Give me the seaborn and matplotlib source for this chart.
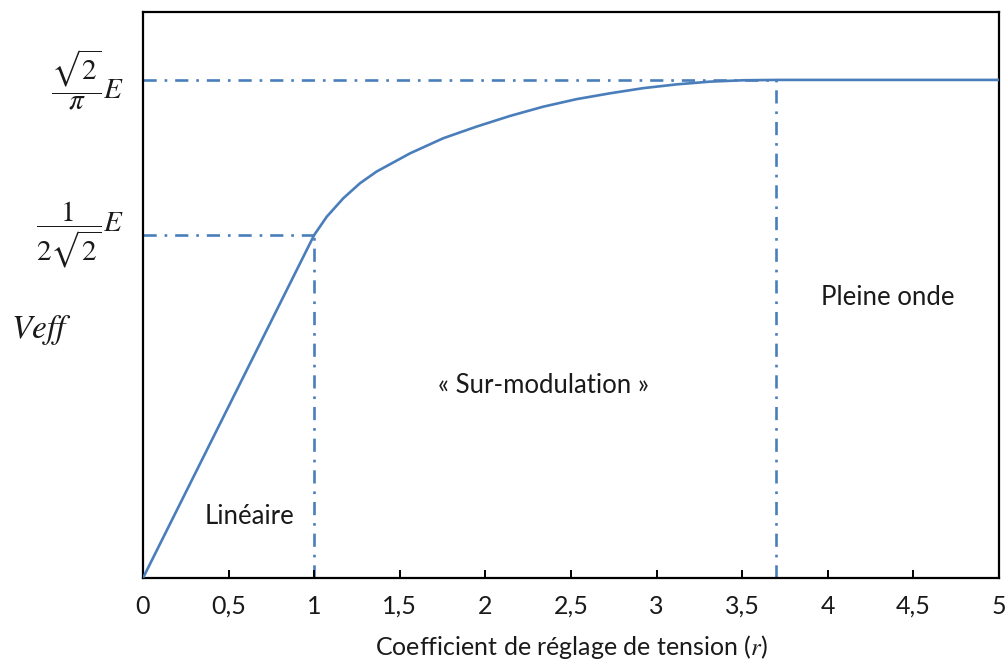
import matplotlib
matplotlib.use("Agg")
import matplotlib.pyplot as plt
import pandas as pd
import seaborn as sns

# Veff versus r (vertical unit = level at r = 1)
r_values = [0.0, 1.0, 1.073, 1.17, 1.268, 1.365, 1.56, 1.754, 1.949, 2.144,
            2.338, 2.533, 2.728, 2.922, 3.117, 3.312, 3.506, 3.7, 5.0]
veff_values = [0.0, 1.0, 1.053, 1.107, 1.151, 1.185, 1.238, 1.282, 1.316, 1.347,
               1.374, 1.396, 1.413, 1.428, 1.439, 1.447, 1.451, 1.452, 1.452]

r_linear_end = 1.0
r_full_wave = 3.7
y_linear_end = 1.0
y_full_wave = 1.452

x_ticks = [0, 0.5, 1, 1.5, 2, 2.5, 3, 3.5, 4, 4.5, 5]
x_tick_labels = ["0", "0,5", "1", "1,5", "2", "2,5", "3", "3,5", "4", "4,5", "5"]
y_ticks = [y_linear_end, y_full_wave]
y_tick_labels = [r"$\dfrac{1}{2\sqrt{2}}E$", r"$\dfrac{\sqrt{2}}{\pi}E$"]

region_labels = ["Linéaire", "« Sur-modulation »", "Pleine onde"]
region_x = [0.62, 2.342, 4.352]
region_y = [0.178, 0.56, 0.819]

blue = "#4a7ebb"


def main() -> None:
    sns.set_theme(style="ticks")
    plt.rcParams["font.family"] = ["Lato", "DejaVu Sans"]
    plt.rcParams["mathtext.fontset"] = "stix"
    plt.rcParams["axes.axisbelow"] = False
    plt.rcParams["xtick.bottom"] = True
    plt.rcParams["xtick.direction"] = "in"
    plt.rcParams["xtick.major.size"] = 6
    plt.rcParams["xtick.major.width"] = 1.4
    plt.rcParams["xtick.color"] = "black"

    fig = plt.figure(figsize=(10.08, 6.62), dpi=100)
    ax = fig.add_axes([143 / 1008, 84 / 662, 856 / 1008, 566 / 662])

    df = pd.DataFrame({"r": r_values, "veff": veff_values})
    sns.lineplot(data=df, x="r", y="veff", ax=ax, color=blue, linewidth=1.9,
                 estimator=None, sort=False, zorder=3)

    dash = dict(color=blue, linewidth=1.9, dashes=(5, 3, 1, 3), zorder=2)
    ax.plot([0, r_linear_end], [y_linear_end, y_linear_end], **dash)
    ax.plot([r_linear_end, r_linear_end], [0, y_linear_end], **dash)
    ax.plot([0, r_full_wave], [y_full_wave, y_full_wave], **dash)
    ax.plot([r_full_wave, r_full_wave], [0, y_full_wave], **dash)

    for label, x, y in zip(region_labels, region_x, region_y):
        ax.text(x, y, label, ha="center", va="center", fontsize=18.5, color="#1a1a1a")

    ax.set_xlim(0, 5)
    ax.set_ylim(0, 1.65)
    ax.set_xticks(x_ticks)
    ax.set_xticklabels(x_tick_labels)
    ax.set_yticks(y_ticks)
    ax.set_yticklabels(y_tick_labels, va="center")
    ax.tick_params(axis="x", which="major", direction="in", length=6, width=1.4,
                   pad=12, labelsize=18, color="black", labelcolor="#1a1a1a",
                   bottom=True, top=False)
    ax.tick_params(axis="y", left=False, right=False, length=0, pad=14,
                   labelsize=21, labelcolor="#1a1a1a")
    for tick in ax.xaxis.get_major_ticks():
        tick.tick1line.set_visible(True)
        tick.tick1line.set_markersize(6)
        tick.tick1line.set_markeredgewidth(1.4)
        tick.tick1line.set_color("black")

    for side in ax.spines.values():
        side.set_visible(True)
        side.set_color("black")
        side.set_linewidth(1.6)

    ax.set_xlabel(r"Coefficient de réglage de tension ($r$)", fontsize=18,
                  color="#1a1a1a", labelpad=11)
    ax.set_ylabel("")
    fig.text(41 / 1008, 1 - 330 / 662, r"$Veff$", fontsize=24, ha="center",
             va="center", color="#1a1a1a")

    fig.savefig("out.png", dpi=100)
    plt.close(fig)


if __name__ == "__main__":
    main()
